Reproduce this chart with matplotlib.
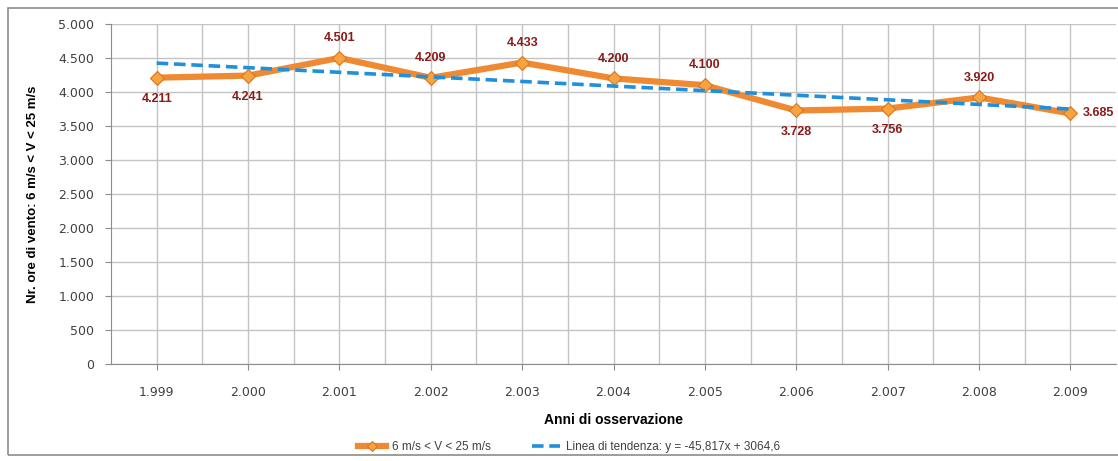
import matplotlib.pyplot as plt
from matplotlib.patches import Rectangle

plt.rcParams['font.family'] = ['Liberation Sans', 'DejaVu Sans']

anni = ['1.999', '2.000', '2.001', '2.002', '2.003', '2.004', '2.005', '2.006', '2.007', '2.008', '2.009']
ore = [4211, 4241, 4501, 4209, 4433, 4200, 4100, 3728, 3756, 3920, 3685]
etichette = ['4.211', '4.241', '4.501', '4.209', '4.433', '4.200', '4.100', '3.728', '3.756', '3.920', '3.685']
# linea di tendenza (primo e ultimo anno)
tendenza = [4425, 3750]
yticks = [0, 500, 1000, 1500, 2000, 2500, 3000, 3500, 4000, 4500, 5000]
ytick_labels = ['0', '500', '1.000', '1.500', '2.000', '2.500', '3.000', '3.500', '4.000', '4.500', '5.000']

fig = plt.figure(figsize=(11.18, 4.61), dpi=100)
fig.patches.append(Rectangle((8 / 1118, 6 / 461), 1.2, 447 / 461, transform=fig.transFigure,
                             fill=False, edgecolor='#8c8c8c', linewidth=1.2))
ax = fig.add_axes([111 / 1118, 97 / 461, 1005 / 1118, 340 / 461])

x = list(range(len(anni)))
ax.plot(x, ore, color='#f08a32', linewidth=4.5, marker='D', markersize=7.5,
        markerfacecolor='#f7a340', markeredgecolor='#d9771e', markeredgewidth=0.8,
        label='6 m/s < V < 25 m/s', zorder=3)
ax.plot([x[0], x[-1]], tendenza, color='#1e90dc', linewidth=2.6, dashes=(3.2, 1.6),
        label='Linea di tendenza: y = -45,817x + 3064,6', zorder=4)

# posizione etichette: sopra / sotto / destra
pos = ['b', 'b', 'a', 'a', 'a', 'a', 'a', 'b', 'b', 'a', 'r']
for i, (v, t, p) in enumerate(zip(ore, etichette, pos)):
    if p == 'a':
        ax.annotate(t, (i, v), xytext=(0, 10), textcoords='offset points', ha='center', va='bottom',
                    color='#8b1a1a', fontsize=9, fontweight='bold')
    elif p == 'b':
        ax.annotate(t, (i, v), xytext=(0, -11), textcoords='offset points', ha='center', va='top',
                    color='#8b1a1a', fontsize=9, fontweight='bold')
    else:
        ax.annotate(t, (i, v), xytext=(9, 0), textcoords='offset points', ha='left', va='center',
                    color='#8b1a1a', fontsize=9, fontweight='bold')

ax.set_xlim(-0.5, len(anni) - 0.5)
ax.set_ylim(0, 5000)
ax.set_yticks(yticks)
ax.set_yticklabels(ytick_labels, family='DejaVu Sans')
ax.set_xticks(x)
ax.set_xticklabels(anni, family='DejaVu Sans')
ax.set_xticks([i + 0.5 for i in x[:-1]], minor=True)
ax.grid(True, which='both', color='#c4c4c4', linewidth=1)
ax.set_axisbelow(True)
for s in ['top', 'right']:
    ax.spines[s].set_visible(False)
ax.spines['left'].set_color('#8c8c8c')
ax.spines['bottom'].set_color('#8c8c8c')
ax.tick_params(axis='both', which='major', labelsize=9, colors='#404040', length=4, color='#8c8c8c')
ax.tick_params(axis='x', which='major', pad=12)
ax.tick_params(axis='x', which='minor', length=0)
ax.tick_params(axis='y', which='major', pad=8)

ax.set_xlabel('Anni di osservazione', fontsize=10, fontweight='bold', labelpad=10)
ax.set_ylabel('Nr. ore di vento: 6 m/s < V < 25 m/s', fontsize=9.5, fontweight='bold', labelpad=14)

fig.legend(loc='center', bbox_to_anchor=(569 / 1118, 1 - 447 / 461), ncol=2, frameon=False,
           fontsize=8.5, handlelength=2.4, handletextpad=0.5, columnspacing=3.5,
           markerscale=0.7, labelcolor='#404040')

fig.savefig('out.png', dpi=100)
